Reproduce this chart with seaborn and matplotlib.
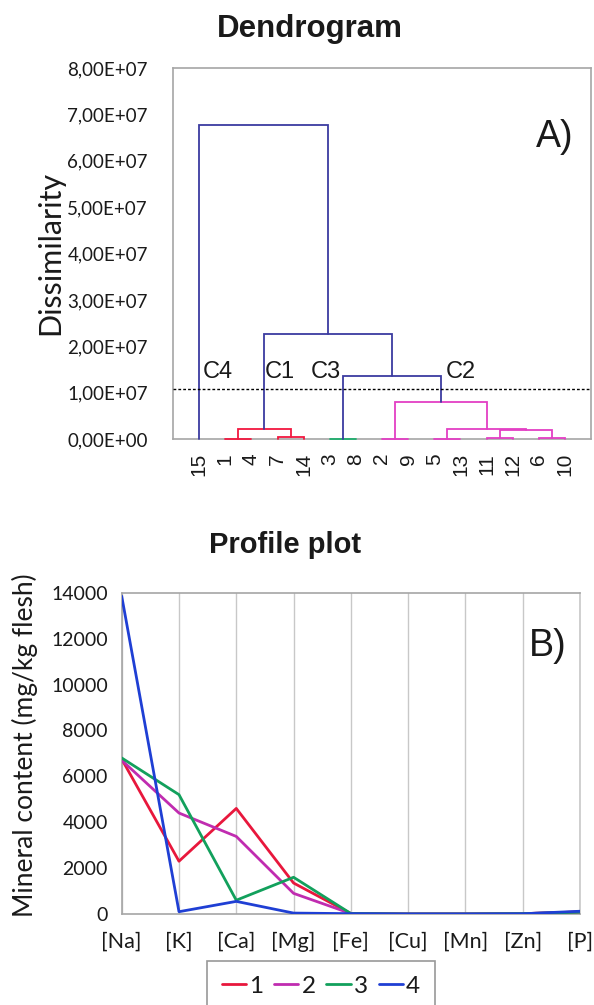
import numpy as np
import pandas as pd
import matplotlib
matplotlib.use("Agg")
import matplotlib.pyplot as plt
import seaborn as sns
from matplotlib.lines import Line2D

# ---------------- data ----------------
leaf_order = ["15", "1", "4", "7", "14", "3", "8", "2", "9", "5", "13", "11", "12", "6", "10"]
merge_left = ["1", "3", "2", "5", "11", "6", "7", "11+12", "5+13", "1+4", "2+9", "3+8",
              "1+4+7+14", "15"]
merge_right = ["4", "8", "9", "13", "12", "10", "14", "6+10", "11+12+6+10", "7+14",
               "5+13+11+12+6+10", "2+9+5+13+11+12+6+10",
               "3+8+2+9+5+13+11+12+6+10",
               "1+4+7+14+3+8+2+9+5+13+11+12+6+10"]
merge_height = [1e5, 1e5, 1e5, 1e5, 3e5, 3e5, 5e5, 2.0e6, 2.2e6, 2.1e6, 8.0e6, 1.36e7,
                2.27e7, 6.78e7]
merge_group = ["C1", "C3", "C2", "C2", "C2", "C2", "C1", "C2", "C2", "C1", "C2", "link",
               "link", "link"]
cut_height = 1.08e7
cluster_names = ["C4", "C1", "C3", "C2"]
dendro_yticks = [0, 1e7, 2e7, 3e7, 4e7, 5e7, 6e7, 7e7, 8e7]

elements = ["[Na]", "[K]", "[Ca]", "[Mg]", "[Fe]", "[Cu]", "[Mn]", "[Zn]", "[P]"]
cluster1 = [6750, 2300, 4600, 1350, 20, 2, 3, 15, 90]
cluster2 = [6700, 4400, 3380, 900, 20, 2, 3, 15, 90]
cluster3 = [6800, 5200, 600, 1600, 20, 2, 3, 15, 80]
cluster4 = [13850, 100, 550, 40, 15, 2, 2, 10, 120]
series_names = ["1", "2", "3", "4"]
profile_yticks = [0, 2000, 4000, 6000, 8000, 10000, 12000, 14000]

# ---------------- style ----------------
sns.set_style("white")
plt.rcParams["font.family"] = ["Lato", "DejaVu Sans"]
plt.rcParams["text.color"] = "#1a1a1a"
plt.rcParams["xtick.color"] = "#1a1a1a"
plt.rcParams["ytick.color"] = "#1a1a1a"
GRAY = "#a6a6a6"
group_colors = {"C1": "#f2173f", "C2": "#e33fc4", "C3": "#1fae6e", "link": "#3b3ba0"}
line_colors = ["#e8173c", "#c02cb0", "#12a05c", "#1f3fd4"]

fig = plt.figure(figsize=(5.94, 10.05), dpi=100)
W, H = 594, 1005


def fig_axes(l, t, r, b):
    return fig.add_axes([l / W, 1 - b / H, (r - l) / W, (b - t) / H])


# ---------------- dendrogram ----------------
ax1 = fig_axes(173, 68, 591, 439)
pos = {lab: i + 1 for i, lab in enumerate(leaf_order)}
hgt = {lab: 0.0 for lab in leaf_order}
for l, r, h, g in zip(merge_left, merge_right, merge_height, merge_group):
    xl, xr = pos[l], pos[r]
    ax1.plot([xl, xl, xr, xr], [hgt[l], h, h, hgt[r]], color=group_colors[g],
             lw=1.3, solid_joinstyle="miter", zorder=3, clip_on=False)
    name = l + "+" + r
    pos[name] = (xl + xr) / 2
    hgt[name] = h

ax1.axhline(cut_height, color="black", lw=1.0, ls=(0, (2, 1.5)), zorder=4)
label_x = [1.70, 4.07, 5.86, 11.0]
for name, x in zip(cluster_names, label_x):
    ax1.text(x, 1.45e7, name, ha="center", va="center", fontsize=17,
             family="Liberation Sans")
ax1.text(0.914, 0.814, "A)", transform=ax1.transAxes, ha="center", va="center",
         fontsize=27, family="Liberation Sans")

ax1.set_xlim(0, 16)
ax1.set_ylim(0, 8e7)
ax1.set_xticks(range(1, len(leaf_order) + 1))
ax1.set_xticklabels(leaf_order, rotation=90, fontsize=15, family="Liberation Sans")
ax1.set_yticks(dendro_yticks)
ax1.set_yticklabels([f"{v:.2E}".replace(".", ",") for v in dendro_yticks], fontsize=13.5)
ax1.tick_params(axis="x", length=0, pad=10)
ax1.tick_params(axis="y", length=6, color=GRAY, width=1, pad=12, direction="out")
for s in ax1.spines.values():
    s.set_color(GRAY)
    s.set_linewidth(1.2)
fig.text(50 / W, 1 - 253 / H, "Dissimilarity", rotation=90, ha="center", va="center",
         fontsize=22)
fig.text(310 / W, 1 - 29 / H, "Dendrogram", ha="center", va="center", fontsize=22.5,
         fontweight="bold", family="Liberation Sans")

# ---------------- profile plot ----------------
ax2 = fig_axes(121.7, 592.7, 580, 914)
xpos = np.arange(len(elements))
df = pd.DataFrame({
    "x": np.tile(xpos, 4),
    "value": np.concatenate([cluster1, cluster2, cluster3, cluster4]),
    "cluster": np.repeat(series_names, len(elements)),
})
sns.lineplot(data=df, x="x", y="value", hue="cluster", palette=line_colors, lw=2,
             ax=ax2, legend=False, sort=False, zorder=3)
ax2.set_xlim(0, len(elements) - 1)
ax2.set_ylim(0, 14000)
ax2.set_xticks(xpos)
ax2.set_xticklabels(elements, fontsize=15.5)
ax2.set_yticks(profile_yticks)
ax2.set_yticklabels([str(v) for v in profile_yticks], fontsize=14)
ax2.set_xlabel("")
ax2.set_ylabel("")
ax2.grid(axis="x", color="#c8c8c8", lw=1)
ax2.tick_params(axis="both", length=5, color=GRAY, width=1, direction="out")
ax2.tick_params(axis="x", pad=8)
ax2.tick_params(axis="y", pad=5)
for s in ax2.spines.values():
    s.set_color(GRAY)
    s.set_linewidth(1.2)
ax2.spines["right"].set_color("#c8c8c8")
ax2.text(0.93, 0.834, "B)", transform=ax2.transAxes, ha="center", va="center",
         fontsize=27, family="Liberation Sans")
fig.text(25 / W, 1 - 745 / H, "Mineral content (mg/kg flesh)", rotation=90,
         ha="center", va="center", fontsize=19)
fig.text(285 / W, 1 - 545 / H, "Profile plot", ha="center", va="center", fontsize=21,
         fontweight="bold", family="Liberation Sans")

handles = [Line2D([0], [0], color=c, lw=2) for c in line_colors]
leg = fig.legend(handles, series_names, loc="upper center",
                 bbox_to_anchor=(321 / W, 1 - 961 / H), ncol=4, fontsize=17.5,
                 frameon=True, fancybox=False, edgecolor="#7f7f7f",
                 handlelength=1.0, handletextpad=0.12, columnspacing=0.45,
                 borderpad=0.6, borderaxespad=0)
leg.get_frame().set_linewidth(1.2)

fig.savefig("out.png", dpi=100, facecolor="white")
